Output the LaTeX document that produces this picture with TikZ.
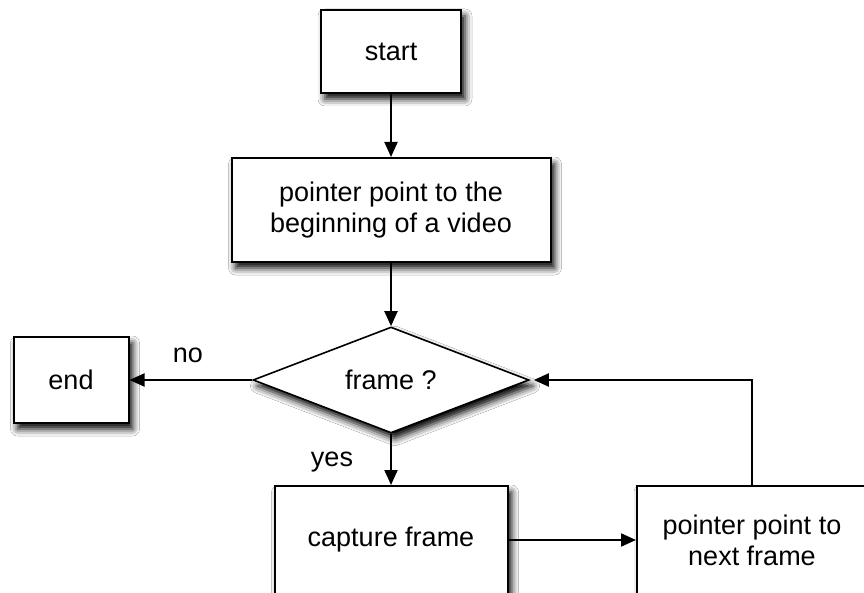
\documentclass[tikz,border=0pt]{standalone}
\usepackage{fontspec}
\setmainfont{Liberation Sans}
\usetikzlibrary{shapes.geometric,arrows.meta,shadows.blur}
\begin{document}
\begin{tikzpicture}[x=1pt,y=-1pt,
  font=\fontsize{27}{31}\selectfont,
  shad/.style={blur shadow={shadow xshift=4pt,shadow yshift=-6pt,shadow blur radius=7pt,shadow opacity=100}},
  box/.style={draw=black,line width=2pt,fill=white,align=center,inner sep=0pt,shad},
  dia/.style={draw=black,line width=1.6pt,fill=white,diamond,aspect=2.6,inner sep=0pt,shad},
  conn/.style={line width=2pt,-{Triangle[length=15pt,width=13pt]}},
  lab/.style={inner sep=0pt}]
\useasboundingbox (0,0) rectangle (864,593);
\clip (0,0) rectangle (864,593);
\fill[white] (0,0) rectangle (864,593);
\node[box,minimum width=140pt,minimum height=83pt] (start) at (391,51.5) {start};
\node[box,minimum width=319pt,minimum height=104pt] (ptr) at (391,210) {pointer point to the\\beginning of a video};
\node[dia,minimum width=276pt,minimum height=106pt] (dec) at (391,380) {frame ?};
\node[box,minimum width=115pt,minimum height=86pt] (end) at (71,380) {end};
\node[box,minimum width=233pt,minimum height=108pt] (cap) at (391,540) {capture frame};
\node[box,minimum width=230pt,minimum height=108pt] (next) at (752,540) {pointer point to\\next frame};
\coordinate (corner) at (next.north |- dec.east);
\draw[conn] (start.south) -- (ptr.north);
\draw[conn] (ptr.south) -- (dec.north);
\draw[conn] (dec.west) -- (end.east);
\draw[conn] (dec.south) -- (cap.north);
\draw[conn] (cap.east) -- (next.west);
\draw[conn,shorten >=4pt] (next.north) -- (corner) -- (dec.east);
\node[lab] (no) at (188,355) {no};
\node[lab] (yes) at (332,462) {yes};
\end{tikzpicture}
\end{document}
